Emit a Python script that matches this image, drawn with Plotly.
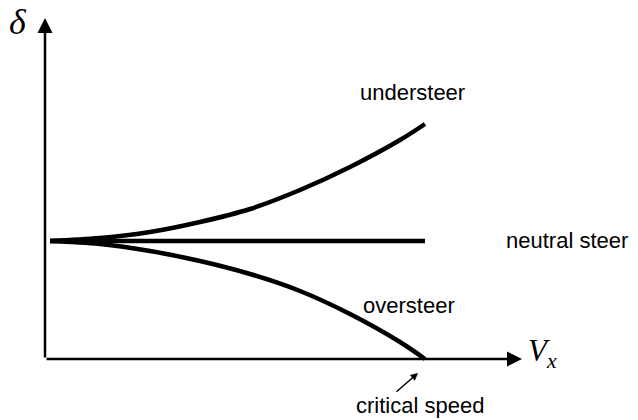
import plotly.graph_objects as go

# data space: origin of the axes at (0, 0)
speed = [5, 55, 105, 155, 205, 255, 305, 355, 380]
under_y = [118, 121, 127, 137, 150, 169, 192, 219, 235]
over_y = [118, 115, 108, 98, 85, 68, 45, 17, 0]

neutral_x = [5, 380]
neutral_y = [118, 118]

x_axis_end = 477
y_axis_end = 341

fig = go.Figure()

curve = dict(color="black", width=4.5)
fig.add_trace(go.Scatter(x=speed, y=under_y, mode="lines", line=dict(shape="spline", **curve)))
fig.add_trace(go.Scatter(x=speed, y=over_y, mode="lines", line=dict(shape="spline", **curve)))
fig.add_trace(go.Scatter(x=neutral_x, y=neutral_y, mode="lines", line=curve))

# axes drawn as arrows
for ax_x, ax_y in [(x_axis_end, 0), (0, y_axis_end)]:
    fig.add_annotation(x=ax_x, y=ax_y, ax=0, ay=0, xref="x", yref="y", axref="x", ayref="y",
                       showarrow=True, arrowhead=2, arrowsize=1.2, arrowwidth=2.5,
                       arrowcolor="black", text="")

sans = dict(family="Liberation Sans, Arial", size=22, color="black")
fig.add_annotation(x=367, y=267, text="understeer", showarrow=False, font=sans)
fig.add_annotation(x=522, y=119, text="neutral steer", showarrow=False, font=sans)
fig.add_annotation(x=364, y=54, text="oversteer", showarrow=False, font=sans)
fig.add_annotation(x=375, y=-46, text="critical speed", showarrow=False, font=sans)
fig.add_annotation(x=373, y=-14, ax=350, ay=-34, xref="x", yref="y", axref="x", ayref="y",
                   showarrow=True, arrowhead=2, arrowsize=1, arrowwidth=1.5,
                   arrowcolor="black", text="")

fig.add_annotation(x=-27, y=337, text="<i>δ</i>", showarrow=False,
                   font=dict(family="Liberation Serif, Times New Roman", size=36, color="black"))
fig.add_annotation(x=497, y=6, text="<i>V<sub>x</sub></i>", showarrow=False,
                   font=dict(family="Liberation Serif, Times New Roman", size=31, color="black"))

# the page body adds an 8px offset, so the figure is 8px smaller and ranges shifted
fig.update_xaxes(range=[-37, 593], visible=False)
fig.update_yaxes(range=[-61, 351], visible=False)
fig.update_layout(width=630, height=412, margin=dict(l=0, r=0, t=0, b=0),
                  plot_bgcolor="white", paper_bgcolor="white", showlegend=False)

fig.write_html("out.html")
